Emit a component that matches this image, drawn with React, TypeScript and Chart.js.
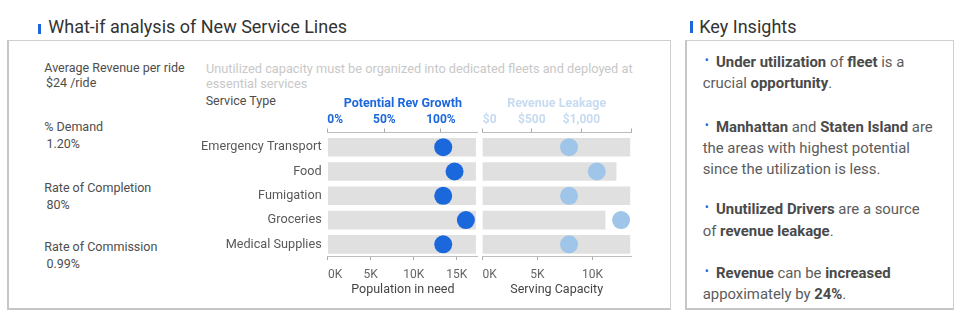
import React, { useEffect, useRef } from 'react';
import { Chart, registerables } from 'chart.js';

Chart.register(...registerables);

// ---------- data ----------
const serviceTypes = ['Emergency Transport', 'Food', 'Fumigation', 'Groceries', 'Medical Supplies'];
const populationInNeed = [17200, 17200, 17200, 17200, 17200];
const potentialRevGrowth = [102, 112, 102, 122, 102]; // %
const servingCapacity = [13400, 12150, 13400, 11150, 13400];
const revenueLeakage = [875, 1155, 875, 1400, 875]; // $

const growthTicks = [0, 50, 100];
const growthTickLabels = ['0%', '50%', '100%'];
const populationTicks = [0, 5000, 10000, 15000];
const populationTickLabels = ['0K', '5K', '10K', '15K'];
const leakageTicks = [0, 500, 1000, 1500];
const leakageTickLabels = ['$0', '$500', '$1,000', ''];
const capacityTicks = [0, 5000, 10000];
const capacityTickLabels = ['0K', '5K', '10K'];

const growthMax = 132.7;
const populationMax = 17480;
const leakageMax = 1500;
const capacityMax = 13500;

const FONT = 'Roboto';
const BLUE = '#1b67dc';
const LIGHT = '#9fc5e8';
const PALE = '#c6dbf1';

let measureCtx: CanvasRenderingContext2D | null = null;
function startAligned(text: string, font: string) {
  if (!measureCtx) measureCtx = document.createElement('canvas').getContext('2d');
  const ctx = measureCtx as CanvasRenderingContext2D;
  ctx.font = font;
  const w = ctx.measureText(text).width;
  const sp = ctx.measureText(' ').width || 1;
  return ' '.repeat(Math.round(w / sp)) + text;
}

function tickLabeler(labels: string[], fontCss: string) {
  return (_v: any, i: number) => (i === 0 ? startAligned(labels[0], fontCss) : labels[i]);
}

function buildConfig(spec: any) {
  const {
    barValues, dotValues, dotColor,
    xMax, xTicks, xLabels, xTitle,
    x2Max, x2Ticks, x2Labels, x2Title, x2Color,
    showCategories, yWidth,
  } = spec;
  return {
    type: 'bar',
    data: {
      datasets: [
        {
          type: 'line',
          data: dotValues.map((v: number, i: number) => ({ x: v, y: i })),
          xAxisID: 'x2',
          yAxisID: 'y',
          showLine: false,
          pointRadius: 9,
          pointHoverRadius: 9,
          pointBackgroundColor: dotColor,
          pointBorderColor: dotColor,
          pointBorderWidth: 0,
          clip: false,
          order: 0,
        },
        {
          type: 'bar',
          data: barValues.map((v: number, i: number) => ({ x: v, y: i })),
          xAxisID: 'x',
          yAxisID: 'y',
          backgroundColor: '#e0e0e0',
          barThickness: 18,
          order: 1,
        },
      ],
    },
    options: {
      indexAxis: 'y',
      responsive: false,
      animation: false,
      events: [],
      layout: { padding: 0, autoPadding: false },
      plugins: { legend: { display: false }, tooltip: { enabled: false } },
      scales: {
        x: {
          type: 'linear',
          position: 'bottom',
          offset: false,
          min: 0,
          max: xMax,
          afterBuildTicks: (a: any) => { a.ticks = xTicks.map((v: number) => ({ value: v })); },
          afterFit: (a: any) => { a.height = 46; },
          ticks: {
            autoSkip: false, maxRotation: 0, padding: 8, color: '#666',
            font: { family: FONT, size: 12 },
            callback: tickLabeler(xLabels, '12px Roboto'),
          },
          grid: { display: true, drawOnChartArea: false, drawTicks: true, tickLength: 4, tickColor: '#aaa', tickWidth: 1 },
          border: { display: true, color: '#bdbdbd', dash: [2, 2], width: 1 },
          title: { display: true, text: xTitle, color: '#444', font: { family: FONT, size: 12.5 }, padding: { top: 0, bottom: 4.5 } },
        },
        x2: {
          type: 'linear',
          position: 'top',
          offset: false,
          min: 0,
          max: x2Max,
          afterBuildTicks: (a: any) => { a.ticks = x2Ticks.map((v: number) => ({ value: v })); },
          afterFit: (a: any) => { a.height = 40.5; },
          ticks: {
            autoSkip: false, maxRotation: 0, padding: 1, color: x2Color,
            font: { family: FONT, size: 12, weight: 'bold' },
            callback: tickLabeler(x2Labels, 'bold 12px Roboto'),
          },
          grid: { display: true, drawOnChartArea: false, drawTicks: true, tickLength: 4, tickColor: '#aaa', tickWidth: 1 },
          border: { display: true, color: '#bdbdbd', dash: [2, 2], width: 1 },
          title: { display: true, text: x2Title, color: x2Color, font: { family: FONT, size: 12.5, weight: 'bold' }, padding: { top: 4.8, bottom: 0 } },
        },
        y: {
          type: 'linear',
          reverse: true,
          offset: false,
          min: -0.606,
          max: 4.48,
          afterBuildTicks: (a: any) => { a.ticks = serviceTypes.map((_, i) => ({ value: i })); },
          afterFit: (a: any) => { a.width = yWidth; },
          ticks: {
            display: showCategories, autoSkip: false, padding: 6, color: '#595959',
            font: { family: FONT, size: 12.7 },
            callback: (_v: any, i: number) => serviceTypes[i],
          },
          grid: { display: false, drawTicks: false, offset: false },
          border: { display: false },
        },
      },
    },
  };
}

function BulletChart({ spec, left, top, width, height }: any) {
  const ref = useRef<HTMLCanvasElement>(null);
  useEffect(() => {
    const chart = new Chart(ref.current as HTMLCanvasElement, buildConfig(spec) as any);
    return () => chart.destroy();
  }, []);
  return (
    <canvas
      ref={ref}
      width={width}
      height={height}
      style={{ position: 'absolute', left, top, width, height }}
    />
  );
}

const growthSpec = {
  barValues: populationInNeed,
  dotValues: potentialRevGrowth,
  dotColor: BLUE,
  xMax: populationMax, xTicks: populationTicks, xLabels: populationTickLabels, xTitle: 'Population in need',
  x2Max: growthMax, x2Ticks: growthTicks, x2Labels: growthTickLabels, x2Title: 'Potential Rev Growth', x2Color: BLUE,
  showCategories: true, yWidth: 132.7,
};

const leakageSpec = {
  barValues: servingCapacity,
  dotValues: revenueLeakage,
  dotColor: LIGHT,
  xMax: capacityMax, xTicks: capacityTicks, xLabels: capacityTickLabels, xTitle: 'Serving Capacity',
  x2Max: leakageMax, x2Ticks: leakageTicks, x2Labels: leakageTickLabels, x2Title: 'Revenue Leakage', x2Color: PALE,
  showCategories: false, yWidth: 30.3,
};

const txt = (fs: number, extra: any = {}) => ({
  position: 'absolute' as const, fontSize: fs, lineHeight: 1, whiteSpace: 'nowrap' as const, ...extra,
});

const B = ({ children }: any) => <span style={{ fontWeight: 700, color: '#4a4a4a' }}>{children}</span>;
const Dot = () => (
  <span style={{ display: 'inline-block', width: 13.3, paddingLeft: 2, boxSizing: 'border-box', color: BLUE, fontSize: 12, position: 'relative', top: -3 }}>•</span>
);

const LABEL = '#4d4d4d';

export default function App() {
  const para = (top: number) => ({
    position: 'absolute' as const, left: 702.7, top, fontSize: 14.9, lineHeight: '20.5px', color: '#5c5c5c', whiteSpace: 'nowrap' as const,
  });
  return (
    <div style={{ position: 'fixed', left: 0, top: 0, width: 960, height: 334, background: '#fff', fontFamily: 'Roboto, sans-serif', overflow: 'hidden' }}>
      {/* left section */}
      <div style={{ position: 'absolute', left: 38, top: 23.5, width: 3, height: 10.5, background: BLUE }} />
      <div style={txt(18, { left: 48.3, top: 18, color: '#333' })}>What-if analysis of New Service Lines</div>
      <div style={{ position: 'absolute', left: 7, top: 40, width: 664, height: 270, boxSizing: 'border-box', borderTop: '1px solid #cfcfcf', borderRight: '1px solid #cfcfcf', borderLeft: '2px solid #c6c6c6', borderBottom: '2px solid #c6c6c6' }} />

      <div style={txt(12.5, { left: 44.3, top: 62, color: LABEL })}>Average Revenue per ride</div>
      <div style={txt(12.5, { left: 46, top: 77, color: LABEL })}>$24 /ride</div>
      <div style={txt(12.5, { left: 44.3, top: 121, color: LABEL })}>% Demand</div>
      <div style={txt(12.5, { left: 46.5, top: 137.7, color: LABEL })}>1.20%</div>
      <div style={txt(12.5, { left: 44.3, top: 182, color: LABEL })}>Rate of Completion</div>
      <div style={txt(12.5, { left: 46.5, top: 198.7, color: LABEL })}>80%</div>
      <div style={txt(12.5, { left: 44.3, top: 241.4, color: LABEL })}>Rate of Commission</div>
      <div style={txt(12.5, { left: 46.5, top: 258, color: LABEL })}>0.99%</div>

      <div style={{ position: 'absolute', left: 206, top: 60.8, fontSize: 12.75, lineHeight: '15.5px', color: '#c8c8c8', whiteSpace: 'nowrap' }}>
        Unutilized capacity must be organized into dedicated fleets and deployed at<br />essential services
      </div>
      <div style={txt(12.5, { left: 205.7, top: 95.4, color: LABEL })}>Service Type</div>

      <BulletChart spec={growthSpec} left={195} top={92} width={283} height={210} />
      <BulletChart spec={leakageSpec} left={452} top={92} width={180} height={210} />

      {/* right section */}
      <div style={{ position: 'absolute', left: 690, top: 20.7, width: 3, height: 12, background: BLUE }} />
      <div style={txt(18, { left: 699.3, top: 17.5, color: '#333' })}>Key Insights</div>
      <div style={{ position: 'absolute', left: 685, top: 40, width: 269, height: 270, boxSizing: 'border-box', borderTop: '1px solid #cfcfcf', borderRight: '1px solid #cfcfcf', borderLeft: '2px solid #c6c6c6', borderBottom: '2px solid #c6c6c6' }} />

      <div style={para(51.5)}>
        <Dot /><B>Under utilization</B> of <B>fleet</B> is a<br />crucial <B>opportunity</B>.
      </div>
      <div style={para(116.5)}>
        <Dot /><B>Manhattan</B> and <B>Staten Island</B> are<br />the areas with highest potential<br />since the utilization is less.
      </div>
      <div style={para(199)}>
        <Dot /><B>Unutilized Drivers</B> are a source<br />of <B>revenue leakage</B>.
      </div>
      <div style={para(262.5)}>
        <Dot /><B>Revenue</B> can be <B>increased</B><br />appoximately by <B>24%</B>.
      </div>
    </div>
  );
}
